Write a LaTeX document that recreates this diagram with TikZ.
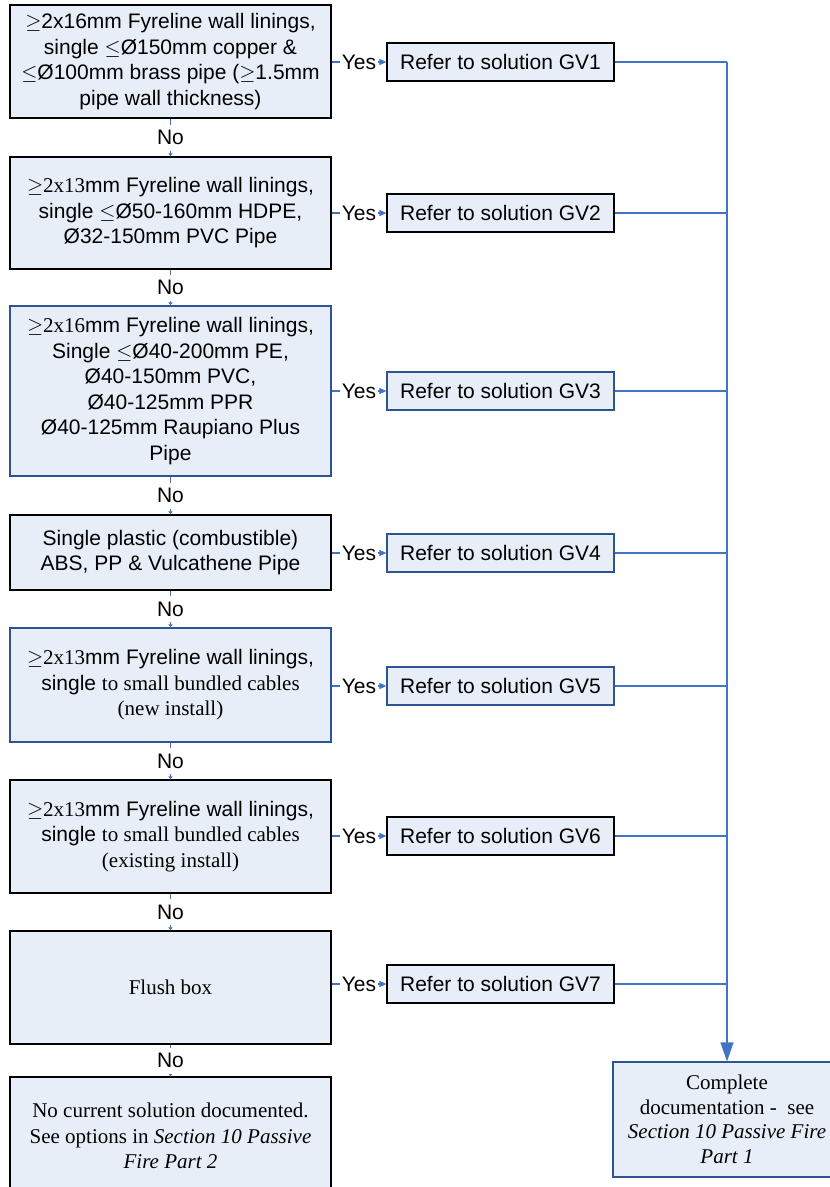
\documentclass[tikz,border=0pt]{standalone}
\usepackage{fontspec}
\setmainfont{Liberation Sans}
\newfontfamily\tnr{Liberation Serif}
\usetikzlibrary{arrows.meta}
\definecolor{boxfill}{RGB}{232,238,248}
\definecolor{lineblue}{RGB}{68,114,196}
\definecolor{bordblue}{RGB}{46,84,150}
\newcommand{\fs}{\fontsize{21}{25.5}\selectfont}
\tikzset{
  qbox/.style={draw=black, fill=boxfill, line width=1.2pt, minimum width=321pt, align=center, inner sep=0pt, font=\fs},
  qboxb/.style={qbox, draw=bordblue},
  gvbox/.style={draw=black, fill=boxfill, line width=1.2pt, minimum width=227pt, minimum height=38pt, inner sep=0pt, font=\fs},
  gvboxb/.style={gvbox, draw=bordblue},
  conn/.style={draw=lineblue, line width=1.2pt},
  yesarrow/.style={conn, -{Triangle[length=7pt,width=6pt]}},
  noarrow/.style={conn, -{Triangle[length=3pt,width=4pt]}},
  lbl/.style={fill=white, inner xsep=2pt, inner ysep=0pt, font=\fs},
  nolbl/.style={fill=white, inner sep=0pt, minimum height=26pt, font=\fs}
}
\begin{document}
\begin{tikzpicture}[x=1pt,y=-1pt]
\useasboundingbox (0,0) rectangle (830,1187);
\clip (0,0) rectangle (830,1187);
% left question boxes
\node[qbox, minimum height=113pt] (q1) at (170.5,61.5) {$\geq$2x16mm Fyreline wall linings,\\ single $\leq$Ø150mm copper \&\\ $\leq$Ø100mm brass pipe ($\geq$1.5mm\\ pipe wall thickness)};
\node[qbox, minimum height=112pt] (q2) at (170.5,213) {$\geq${\tnr 2x13}mm Fyreline wall linings,\\ single $\leq$Ø50-160mm HDPE,\\ Ø32-150mm PVC Pipe};
\node[qboxb, minimum height=170pt] (q3) at (170.5,391) {$\geq${\tnr 2x16}mm Fyreline wall linings,\\ Single $\leq$Ø40-200mm PE,\\ Ø40-150mm PVC,\\ Ø40-125mm PPR\\ Ø40-125mm Raupiano Plus\\ Pipe};
\node[qbox, minimum height=75pt] (q4) at (170.5,552.5) {Single plastic (combustible)\\ ABS, PP \& Vulcathene Pipe};
\node[qboxb, minimum height=114pt] (q5) at (170.5,685) {$\geq${\tnr 2x13}mm Fyreline wall linings,\\ single {\tnr to small bundled cables}\\ {\tnr (new install)}};
\node[qbox, minimum height=113pt] (q6) at (170.5,836.5) {$\geq${\tnr 2x13}mm Fyreline wall linings,\\ single {\tnr to small bundled cables}\\ {\tnr (existing install)}};
\node[qbox, minimum height=113pt] (q7) at (170.5,987.5) {\tnr Flush box};
\node[qbox, minimum height=118pt] (q8) at (170.5,1136) {\tnr No current solution documented.\\ \tnr See options in \textit{Section 10 Passive}\\ \tnr\textit{Fire Part 2}};
% right solution boxes
\node[gvbox] (g1) at (500.5,62) {Refer to solution GV1};
\node[gvbox] (g2) at (500.5,213) {Refer to solution GV2};
\node[gvboxb] (g3) at (500.5,391) {Refer to solution GV3};
\node[gvboxb] (g4) at (500.5,553) {Refer to solution GV4};
\node[gvboxb] (g5) at (500.5,686) {Refer to solution GV5};
\node[gvbox] (g6) at (500.5,836) {Refer to solution GV6};
\node[gvbox] (g7) at (500.5,984) {Refer to solution GV7};
\node[draw=bordblue, fill=boxfill, line width=1.2pt, minimum width=228pt, minimum height=115pt, inner sep=0pt, align=center, font=\fontsize{21}{24.5}\selectfont] (c) at (727,1119.5) {\tnr Complete\\ \tnr documentation -\ \ see\\ \tnr\textit{Section 10 Passive Fire}\\ \tnr\textit{Part 1}};
% Yes connectors
\foreach \i in {1,...,7}{
  \draw[yesarrow] (q\i.east |- g\i.west) -- (g\i.west) node[midway, lbl] {Yes};
}
% No connectors
\foreach \i/\j in {1/2,2/3,3/4,4/5,5/6,6/7,7/8}{
  \draw[noarrow] (q\i.south) -- (q\j.north) node[midway, nolbl] {No};
}
% bus to the completion box
\foreach \i in {1,...,7}{
  \draw[conn] (g\i.east) -- (g\i.east -| c.north);
}
\draw[conn, -{Triangle[length=19pt,width=13pt]}] (g1.east -| c.north) -- (c.north);
\end{tikzpicture}
\end{document}
